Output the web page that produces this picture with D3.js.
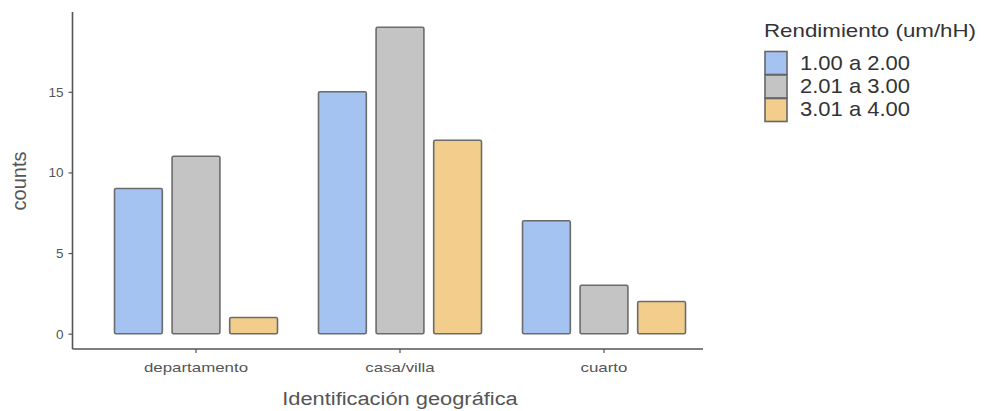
<!DOCTYPE html>
<html>
<head>
<meta charset="utf-8">
<script src="https://cdn.jsdelivr.net/npm/d3@7"></script>
<style>
  body { margin: 0; background: #fff; }
  text { font-family: "Liberation Sans", Arial, sans-serif; }
</style>
</head>
<body>
<svg id="chart" width="986" height="411"></svg>
<script>
const categories = ["departamento", "casa/villa", "cuarto"];
const seriesNames = ["1.00 a 2.00", "2.01 a 3.00", "3.01 a 4.00"];
const seriesColors = ["#a5c3f0", "#c4c4c4", "#f2cd8b"];
const values1 = [9, 15, 7];
const values2 = [11, 19, 3];
const values3 = [1, 12, 2];
const yTicks = [0, 5, 10, 15];
const xTitle = "Identificación geográfica";
const yTitle = "counts";
const legendTitle = "Rendimiento (um/hH)";

const seriesValues = [values1, values2, values3];
const data = [];
categories.forEach((c, i) => {
  seriesNames.forEach((s, j) => data.push({cat: c, series: s, value: seriesValues[j][i], idx: j}));
});

const svg = d3.select("#chart");
const axisColor = "#555";
const textColor = "#555";

const x = d3.scaleBand().domain(categories).range([94, 706]).paddingInner(0).paddingOuter(0);
const xInner = d3.scaleBand().domain(seriesNames).range([-81.5, 81.5]).paddingInner(0.17).paddingOuter(0);
const y = d3.scaleLinear().domain([-0.95, 19.95]).range([349, 12]);

// bars
svg.append("g").selectAll("rect").data(data).join("rect")
  .attr("x", d => x(d.cat) + x.bandwidth() / 2 + xInner(d.series))
  .attr("width", xInner.bandwidth())
  .attr("y", d => y(d.value))
  .attr("height", d => y(0) - y(d.value))
  .attr("rx", 1.5)
  .attr("fill", d => seriesColors[d.idx])
  .attr("stroke", "#6b6b6b")
  .attr("stroke-width", 1.6);

// y axis
const yAxis = svg.append("g").attr("transform", "translate(72.5,0)")
  .call(d3.axisLeft(y).tickValues(yTicks).tickSize(4).tickPadding(5));
yAxis.select(".domain").attr("d", `M0,${y(19.95)}V${y(-0.95)}`).attr("stroke", axisColor).attr("stroke-width", 1.6);
yAxis.selectAll(".tick line").attr("stroke", axisColor).attr("stroke-width", 1.2);
yAxis.selectAll(".tick text").attr("fill", textColor).style("font-size", "13.5px")
  .style("font-family", "'Liberation Sans', Arial, sans-serif");

// x axis
const xAxis = svg.append("g").attr("transform", "translate(0,349)")
  .call(d3.axisBottom(x).tickSize(4).tickPadding(9));
xAxis.select(".domain").attr("d", `M72.5,0H703`).attr("stroke", axisColor).attr("stroke-width", 1.6);
xAxis.selectAll(".tick line").attr("stroke", axisColor).attr("stroke-width", 1.2);
xAxis.selectAll(".tick text").attr("fill", textColor).style("font-size", "13.5px")
  .style("font-family", "'Liberation Sans', Arial, sans-serif")
  .attr("transform", "scale(1.25,1)");

// axis titles
svg.append("text").attr("x", 400).attr("y", 405).attr("text-anchor", "middle")
  .attr("fill", textColor).style("font-size", "19px").text(xTitle)
  .attr("transform", "translate(400,0) scale(1.15,1) translate(-400,0)");
svg.append("text").attr("transform", "translate(26,181) rotate(-90)")
  .attr("text-anchor", "middle").attr("fill", textColor).style("font-size", "20px").text(yTitle);

// legend
const lg = svg.append("g");
lg.append("text").attr("x", 764).attr("y", 37).attr("fill", "#333").style("font-size", "19px")
  .attr("transform", "translate(764,0) scale(1.175,1) translate(-764,0)")
  .text(legendTitle);
seriesNames.forEach((s, i) => {
  lg.append("rect").attr("x", 765).attr("y", 51.5 + i * 23.5).attr("width", 22).attr("height", 23)
    .attr("fill", seriesColors[i]).attr("stroke", "#666").attr("stroke-width", 1.6);
  lg.append("text").attr("x", 800).attr("y", 70 + i * 23.2).attr("fill", "#333").style("font-size", "20px")
    .attr("transform", "translate(800,0) scale(1.1,1) translate(-800,0)")
    .text(s);
});
</script>
</body>
</html>
